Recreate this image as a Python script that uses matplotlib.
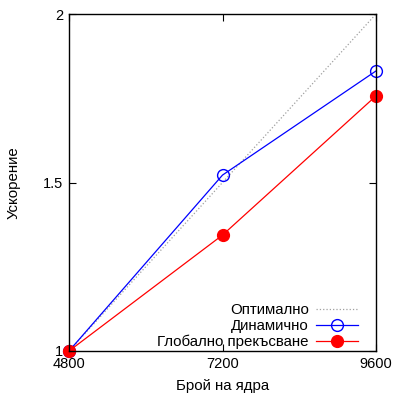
import matplotlib
matplotlib.use("Agg")
import matplotlib.pyplot as plt
from matplotlib.ticker import FixedLocator

plt.rcParams['font.family'] = ['Liberation Sans', 'DejaVu Sans']

cores = [4800, 7200, 9600]
optimal = [1.0, 1.5, 2.0]
dynamic = [1.0, 1.522, 1.831]
global_int = [1.0, 1.344, 1.757]

xticks = [4800, 7200, 9600]
yticks = [1, 1.5, 2]
ytick_labels = ["1", "1.5", "2"]

fig = plt.figure(figsize=(3.96, 3.99), dpi=100)
ax = fig.add_axes([69/396, 48/399, (376-69)/396, (351-14)/399])

ax.plot(cores, optimal, linestyle=':', color='#a0a0a0', lw=0.9, label='Оптимално',
        clip_on=False)
ax.plot(cores, dynamic, color='blue', lw=0.9, marker='o', mfc='none', mec='blue',
        mew=1.0, ms=8.5, label='Динамично', clip_on=False)
ax.plot(cores, global_int, color='red', lw=0.9, marker='o', mfc='red', mec='red',
        ms=8.5, label='Глобално прекъсване', clip_on=False)

ax.set_xlim(4800, 9600)
ax.set_ylim(1, 2)
ax.xaxis.set_major_locator(FixedLocator(xticks))
ax.yaxis.set_major_locator(FixedLocator(yticks))
ax.set_yticklabels(ytick_labels)
ax.tick_params(direction='in', top=True, right=True, length=5, width=0.8,
               labelsize=10.5, pad=4)
for s in ax.spines.values():
    s.set_linewidth(1.0)
ax.set_xlabel('Брой на ядра', fontsize=10.8, labelpad=6)
ax.set_ylabel('Ускорение', fontsize=10.8, labelpad=16)

leg = ax.legend(loc='lower right', frameon=False, fontsize=10.8, markerfirst=False,
                handlelength=2.8, handletextpad=0.45, labelspacing=0.12,
                borderaxespad=0.0, bbox_to_anchor=(0.96, -0.012))
for t in leg.get_texts():
    t.set_ha('right')
leg._legend_box.align = 'right'

fig.savefig('out.png', dpi=100)
